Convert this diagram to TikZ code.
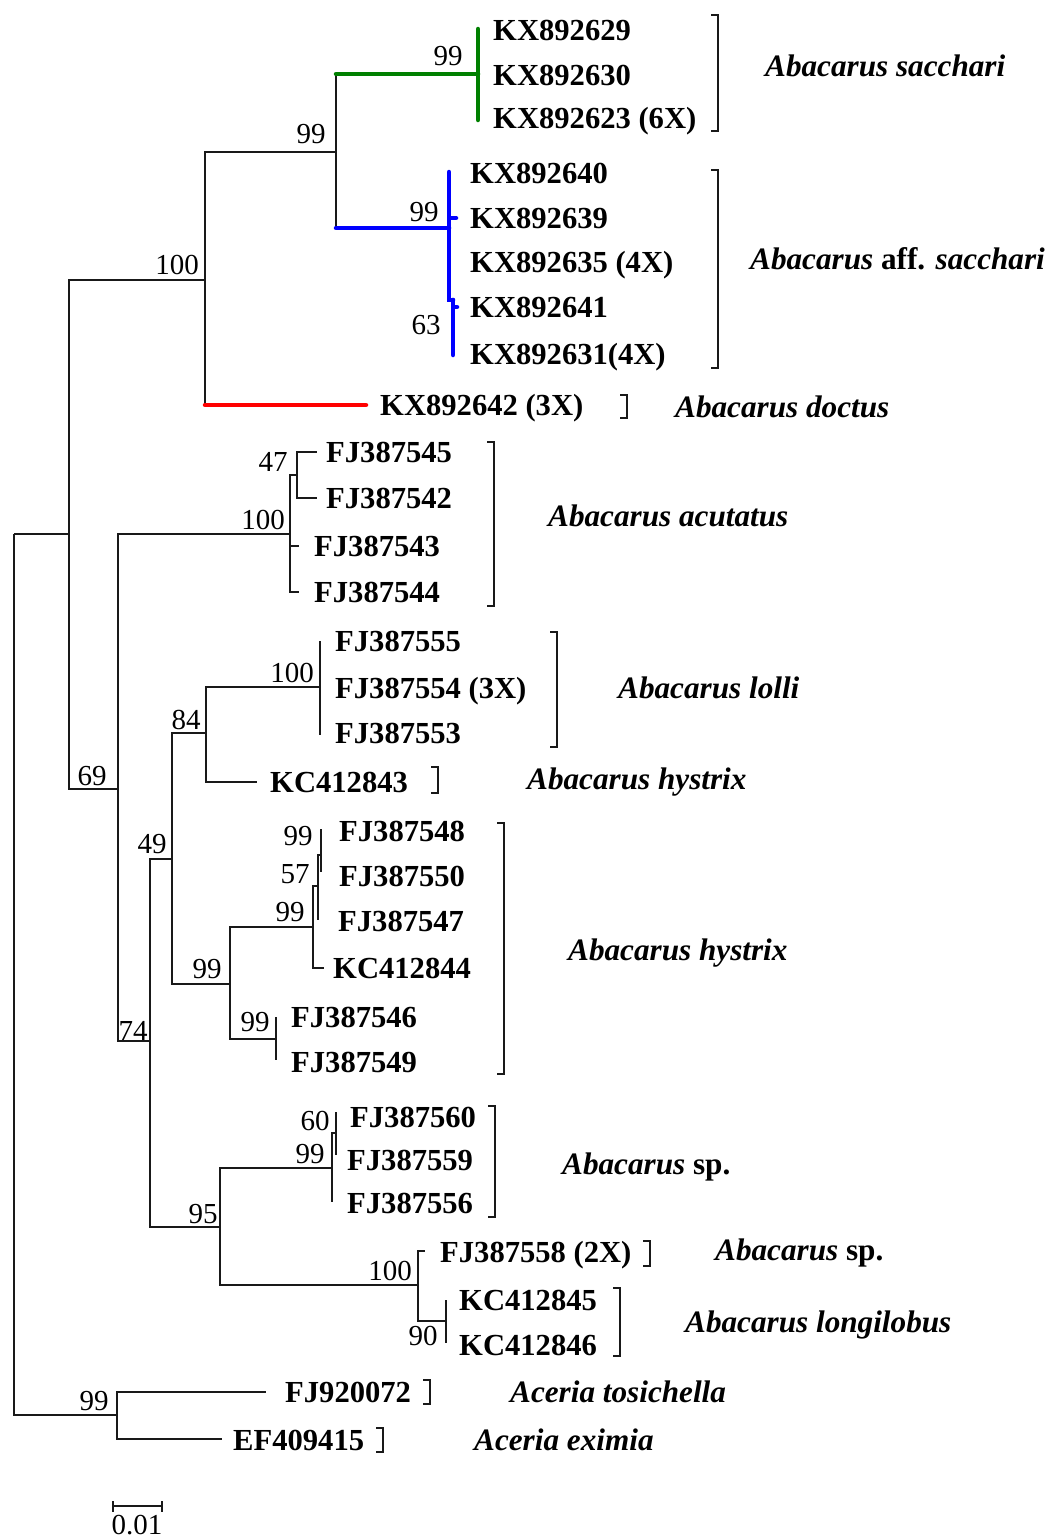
\documentclass[tikz,border=0pt]{standalone}
\usepackage{fontspec}
\usetikzlibrary{calc}
\setmainfont{Liberation Serif}
\newcommand\tipfnt{\fontsize{30.6}{36}\selectfont\bfseries}
\newcommand\bsfnt{\fontsize{29}{34}\selectfont}
\newcommand\spfnt{\fontsize{31.2}{36}\selectfont\bfseries\itshape}
\definecolor{cgreen}{RGB}{0,128,0}
\definecolor{cblue}{RGB}{0,0,255}
\definecolor{cred}{RGB}{255,0,0}
\tikzset{
  br/.style={line width=1.4pt, black!90},
  greenl/.style={line width=4.5pt, cgreen, line cap=round},
  bluel/.style={line width=4.5pt, cblue, line cap=round},
  redl/.style={line width=4.5pt, cred, line cap=round},
  tiplab/.style={anchor=west, inner sep=0pt, font=\tipfnt, text height=20pt, text depth=0pt},
  splab/.style={anchor=west, inner sep=0pt, font=\spfnt, text height=20pt, text depth=0pt},
  bs/.style={inner sep=0pt, font=\bsfnt, text height=20pt, text depth=0pt},
  brkline/.style={line width=1.4pt, black!90},
}
\newcommand\clbrk[3]{\draw[brkline] ({#1-7},#2) -- (#1,#2) -- (#1,#3) -- ({#1-7},#3);}
\begin{document}
\begin{tikzpicture}[x=1pt,y=-1pt]
\useasboundingbox[fill=white] (0,0) rectangle (1045,1539);

% ---------- internal nodes (x of vertical, y of stem) ----------
\coordinate (R) at (14,534);
\coordinate (A) at (69,534);
\coordinate (B100) at (205,280);
\coordinate (C99) at (336,152);
\coordinate (G) at (478,74);
\coordinate (Bl) at (449,228);
\coordinate (N63) at (453,300);
\coordinate (N69) at (118,789);
\coordinate (N100a) at (290,534);
\coordinate (N47) at (297,475);
\coordinate (N74) at (150,1041);
\coordinate (N49) at (172,859);
\coordinate (N84) at (206,733);
\coordinate (N100L) at (320,687);
\coordinate (N99h) at (230,984);
\coordinate (N99c) at (313,927);
\coordinate (N57) at (318,886);
\coordinate (N99d) at (321,855);
\coordinate (N99b) at (276,1039);
\coordinate (N95) at (220,1227);
\coordinate (N99s) at (332,1168);
\coordinate (N60) at (336,1133);
\coordinate (N100s) at (418,1285);
\coordinate (N90) at (446,1321);
\coordinate (Ac) at (117,1415);

% ---------- branch ends ----------
\coordinate (g1) at (478,29);
\coordinate (g2) at (478,75);
\coordinate (g3) at (478,120);
\coordinate (b1) at (449,172);
\coordinate (b2) at (456,218);
\coordinate (b3) at (449,262);
\coordinate (b4) at (457,307);
\coordinate (b5) at (453,355);
\coordinate (rd) at (366,405);
\coordinate (t545) at (317,452);
\coordinate (t542) at (317,498);
\coordinate (t543) at (299,546);
\coordinate (t544) at (299,592);
\coordinate (t555) at (320,641);
\coordinate (t554) at (320,688);
\coordinate (t553) at (320,735);
\coordinate (t843) at (257,782);
\coordinate (t548) at (321,829);
\coordinate (t550) at (321,872);
\coordinate (t547) at (318,920);
\coordinate (t844) at (324,968);
\coordinate (t546) at (276,1017);
\coordinate (t549) at (276,1060);
\coordinate (t560) at (336,1112);
\coordinate (t559) at (336,1155);
\coordinate (t556) at (332,1202);
\coordinate (t558) at (425,1251);
\coordinate (t845) at (446,1300);
\coordinate (t846) at (446,1343);
\coordinate (t072) at (266,1392);
\coordinate (t415) at (222,1439);

% ---------- tree edges ----------
\draw[br] (R) |- (A);
\draw[br] (R) |- (Ac);
\draw[br] (A) |- (B100);
\draw[br] (A) |- (N69);
\draw[br] (B100) |- (C99);
\draw[br] (B100) -- (B100 |- rd);
\draw[redl] (B100 |- rd) -- (rd);
\draw[br] (C99) -- (C99 |- G);
\draw[br] (C99) -- (C99 |- Bl);
\draw[greenl] (C99 |- G) -- (G);
\draw[bluel] (C99 |- Bl) -- (Bl);
\draw[greenl] (G) |- (g1);
\draw[greenl] (G) |- (g2);
\draw[greenl] (G) |- (g3);
\draw[bluel] (Bl) |- (b1);
\draw[bluel] (Bl) |- (b2);
\draw[bluel] (Bl) |- (b3);
\draw[bluel] (Bl) |- (N63);
\draw[bluel] (N63) |- (b4);
\draw[bluel] (N63) |- (b5);

\draw[br] (N69) |- (N100a);
\draw[br] (N69) |- (N74);
\draw[br] (N100a) |- (N47);
\draw[br] (N100a) |- (t543);
\draw[br] (N100a) |- (t544);
\draw[br] (N47) |- (t545);
\draw[br] (N47) |- (t542);

\draw[br] (N74) |- (N49);
\draw[br] (N74) |- (N95);
\draw[br] (N49) |- (N84);
\draw[br] (N49) |- (N99h);
\draw[br] (N84) |- (N100L);
\draw[br] (N84) |- (t843);
\draw[br] (N100L) |- (t555);
\draw[br] (N100L) |- (t554);
\draw[br] (N100L) |- (t553);
\draw[br] (N99h) |- (N99c);
\draw[br] (N99h) |- (N99b);
\draw[br] (N99c) |- (N57);
\draw[br] (N99c) |- (t844);
\draw[br] (N57) |- (N99d);
\draw[br] (N57) |- (t547);
\draw[line width=2.6pt, black!90] (N99d) |- (t548);
\draw[line width=2.6pt, black!90] (N99d) |- (t550);
\draw[br] (N99b) |- (t546);
\draw[br] (N99b) |- (t549);
\draw[br] (N95) |- (N99s);
\draw[br] (N95) |- (N100s);
\draw[br] (N99s) |- (N60);
\draw[br] (N99s) |- (t556);
\draw[br] (N60) |- (t560);
\draw[br] (N60) |- (t559);
\draw[br] (N100s) |- (t558);
\draw[br] (N100s) |- (N90);
\draw[br] (N90) |- (t845);
\draw[br] (N90) |- (t846);
\draw[br] (Ac) |- (t072);
\draw[br] (Ac) |- (t415);

% ---------- tip labels ----------
\node[tiplab] (L629) at (493,30) {KX892629};
\node[tiplab] (L630) at (493,75) {KX892630};
\node[tiplab] (L623) at (493,118) {KX892623 (6X)};
\node[tiplab] (L640) at (470,173) {KX892640};
\node[tiplab] (L639) at (470,218) {KX892639};
\node[tiplab] (L635) at (470,262) {KX892635 (4X)};
\node[tiplab] (L641) at (470,307) {KX892641};
\node[tiplab] (L631) at (470,354) {KX892631(4X)};
\node[tiplab] (L642) at (380,405) {KX892642 (3X)};
\node[tiplab] (L545) at (326,452) {FJ387545};
\node[tiplab] (L542) at (326,498) {FJ387542};
\node[tiplab] (L543) at (314,546) {FJ387543};
\node[tiplab] (L544) at (314,592) {FJ387544};
\node[tiplab] (L555) at (335,641) {FJ387555};
\node[tiplab] (L554) at (335,688) {FJ387554 (3X)};
\node[tiplab] (L553) at (335,733) {FJ387553};
\node[tiplab] (L843) at (270,782) {KC412843};
\node[tiplab] (L548) at (339,831) {FJ387548};
\node[tiplab] (L550) at (339,876) {FJ387550};
\node[tiplab] (L547) at (338,921) {FJ387547};
\node[tiplab] (L844) at (333,968) {KC412844};
\node[tiplab] (L546) at (291,1017) {FJ387546};
\node[tiplab] (L549) at (291,1062) {FJ387549};
\node[tiplab] (L560) at (350,1117) {FJ387560};
\node[tiplab] (L559) at (347,1160) {FJ387559};
\node[tiplab] (L556) at (347,1203) {FJ387556};
\node[tiplab] (L558) at (440,1252) {FJ387558 (2X)};
\node[tiplab] (L845) at (459,1300) {KC412845};
\node[tiplab] (L846) at (459,1345) {KC412846};
\node[tiplab] (L072) at (285,1392) {FJ920072};
\node[tiplab] (L415) at (233,1440) {EF409415};

% ---------- bootstrap values ----------
\node[bs] (s1) at (448,55) {99};
\node[bs] (s2) at (311,133) {99};
\node[bs] (s3) at (177,264) {100};
\node[bs] (s4) at (424,211) {99};
\node[bs] (s5) at (426,324) {63};
\node[bs] (s6) at (273,461) {47};
\node[bs] (s7) at (263,519) {100};
\node[bs] (s8) at (292,672) {100};
\node[bs] (s9) at (186,719) {84};
\node[bs] (s10) at (92,775) {69};
\node[bs] (s11) at (152,843) {49};
\node[bs] (s12) at (298,835) {99};
\node[bs] (s13) at (295,873) {57};
\node[bs] (s14) at (290,911) {99};
\node[bs] (s15) at (207,968) {99};
\node[bs] (s16) at (255,1021) {99};
\node[bs] (s17) at (133,1030) {74};
\node[bs] (s18) at (315,1120) {60};
\node[bs] (s19) at (310,1153) {99};
\node[bs] (s20) at (203,1213) {95};
\node[bs] (s21) at (390,1270) {100};
\node[bs] (s22) at (423,1335) {90};
\node[bs] (s23) at (94,1400) {99};

% ---------- brackets ----------
\clbrk{718}{15}{131}
\clbrk{718}{170}{368}
\clbrk{627}{395}{418}
\clbrk{494}{442}{606}
\clbrk{557}{632}{747}
\clbrk{438}{767}{793}
\clbrk{504}{823}{1074}
\clbrk{495}{1106}{1217}
\clbrk{650}{1241}{1266}
\clbrk{620}{1288}{1356}
\clbrk{430}{1380}{1404}
\clbrk{383}{1428}{1452}

% ---------- species labels ----------
\node[splab] (S1) at (765,66) {Abacarus sacchari};
\node[splab] (S2) at (750,259) {Abacarus \upshape aff. \itshape sacchari};
\node[splab] (S3) at (675,407) {Abacarus doctus};
\node[splab] (S4) at (548,516) {Abacarus acutatus};
\node[splab] (S5) at (618,688) {Abacarus lolli};
\node[splab] (S6) at (527,779) {Abacarus hystrix};
\node[splab] (S7) at (568,950) {Abacarus hystrix};
\node[splab] (S8) at (562,1164) {Abacarus \upshape sp.};
\node[splab] (S9) at (715,1250) {Abacarus \upshape sp.};
\node[splab] (S10) at (685,1322) {Abacarus longilobus};
\node[splab] (S11) at (510,1392) {Aceria tosichella};
\node[splab] (S12) at (474,1440) {Aceria eximia};

% ---------- scale bar ----------
\coordinate (sb1) at (113,1506);
\coordinate (sb2) at (162,1506);
\draw[br] (sb1) -- (sb2);
\draw[br] ($(sb1)+(0,-5)$) -- ($(sb1)+(0,6)$);
\draw[br] ($(sb2)+(0,-5)$) -- ($(sb2)+(0,6)$);
\node[bs] (sbl) at (137,1524) {0.01};
\end{tikzpicture}
\end{document}
